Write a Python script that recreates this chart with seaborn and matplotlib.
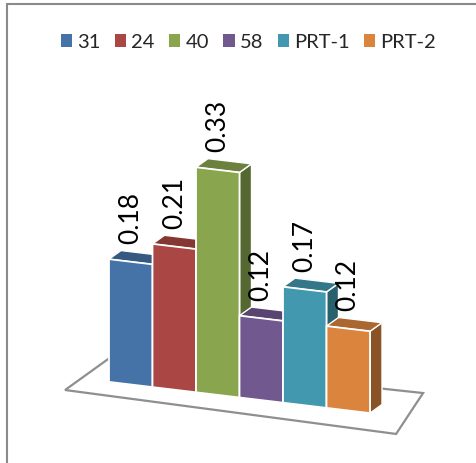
import numpy as np
import matplotlib
matplotlib.use("Agg")
import matplotlib.pyplot as plt
import matplotlib.transforms as mtransforms
import matplotlib.colors as mcolors
from matplotlib.patches import Polygon, Patch
from matplotlib.lines import Line2D
import seaborn as sns
import pandas as pd

categories = ["31", "24", "40", "58", "PRT-1", "PRT-2"]
values = [0.18, 0.21, 0.33, 0.12, 0.17, 0.12]
colors = ["#4572A7", "#AA4643", "#89A54E", "#71588F", "#4198AF", "#DB843D"]

sns.set_theme(style="white")
plt.rcParams["font.family"] = ["Lato", "DejaVu Sans"]

fig = plt.figure(figsize=(4.76, 4.63), dpi=100)
ax = fig.add_axes([0, 0, 1, 1])
df = pd.DataFrame({"cat": categories, "val": values})
sns.barplot(data=df, x="cat", y="val", hue="cat", palette=colors, width=1.0,
            saturation=1, edgecolor="white", linewidth=1.3, legend=False, ax=ax)

# pseudo-3D projection: baseline slopes down to the right
k = 5.2 / 682
skew = mtransforms.Affine2D.from_values(1, -k, 0, 1, 0, 0)
tr = skew + ax.transData
ax.set_xlim(-3.006, 7.937)
ax.set_ylim(-0.1151, 0.5638)
ax.axis("off")

dx, dy = 0.276, 0.0147
bars = sorted(ax.patches, key=lambda p: p.get_x())
for i, p in enumerate(bars):
    x0, w, h = p.get_x(), p.get_width(), p.get_height()
    x1 = x0 + w
    fc = np.array(mcolors.to_rgb(colors[i]))
    p.set_transform(tr)
    p.set_zorder(10 + 3 * i + 2)
    side = Polygon([(x1, 0), (x1, h), (x1 + dx, h + dy), (x1 + dx, dy)], closed=True,
                   facecolor=fc * 0.63, edgecolor="white", lw=1.0, transform=tr,
                   zorder=10 + 3 * i)
    top = Polygon([(x0, h), (x1, h), (x1 + dx, h + dy), (x0 + dx, h + dy)], closed=True,
                  facecolor=fc * 0.78, edgecolor="white", lw=1.0, transform=tr,
                  zorder=10 + 3 * i + 1)
    ax.add_patch(side)
    ax.add_patch(top)
    ax.text(x0 + w / 2, h + dy + 0.011, f"{values[i]:.2f}", rotation=90,
            ha="center", va="bottom", fontsize=19, color="black",
            transform=tr, zorder=40)

# floor
left = bars[0].get_x()
right = bars[-1].get_x() + bars[-1].get_width()
floor = Polygon([(left - 1.01, -0.0196), (right + 0.60, -0.026),
                 (right + 1.22, 0.0387), (left - 0.02, 0.0334)], closed=True,
                facecolor="white", edgecolor="#8f8f8f", lw=1.6, transform=tr, zorder=5)
ax.add_patch(floor)

# chart frame (partially visible)
fx = 7 / 476
fy = 1 - 4 / 463
fig.add_artist(Line2D([fx, fx], [0, fy], transform=fig.transFigure, color="#8a8a8a", lw=1.5))
fig.add_artist(Line2D([fx, 1], [fy, fy], transform=fig.transFigure, color="#8a8a8a", lw=1.5))

handles = [Patch(facecolor=c, edgecolor="none") for c in colors]
fig.legend(handles, categories, loc="center", bbox_to_anchor=(0.522, 0.909), ncol=6,
           frameon=False, fontsize=14.5, handlelength=0.55, handleheight=0.55,
           handletextpad=0.25, columnspacing=0.72)

fig.savefig("out.png", dpi=100)
